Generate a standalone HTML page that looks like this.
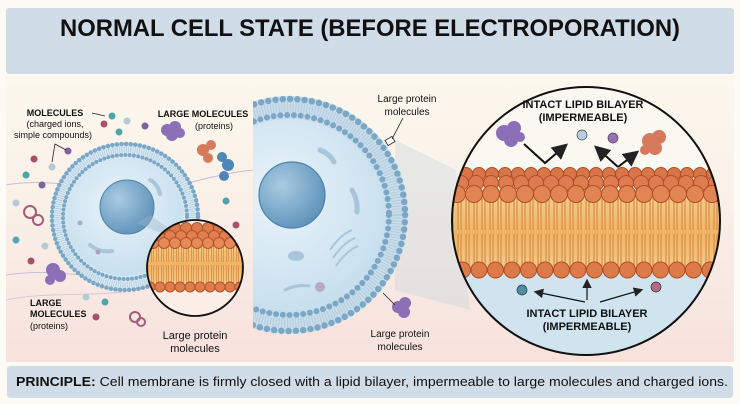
<!DOCTYPE html>
<html><head><meta charset="utf-8"><style>
html,body{margin:0;padding:0;background:#fdfbf6;}
svg{display:block;}
text{font-family:"Liberation Sans",sans-serif;}
</style></head><body>
<svg width="740" height="404" viewBox="0 0 740 404" xmlns="http://www.w3.org/2000/svg">
<defs>
<linearGradient id="bg" x1="0" y1="0" x2="0" y2="1">
<stop offset="0" stop-color="#fcf8ee"/><stop offset="0.55" stop-color="#f9eee6"/><stop offset="1" stop-color="#f7e1dc"/>
</linearGradient>
<radialGradient id="cyto" cx="0.45" cy="0.4" r="0.6">
<stop offset="0" stop-color="#eaf4fa"/><stop offset="1" stop-color="#c7dfee"/>
</radialGradient>
<radialGradient id="nuc" cx="0.35" cy="0.35" r="0.7">
<stop offset="0" stop-color="#a9cbe2"/><stop offset="1" stop-color="#5f93bb"/>
</radialGradient>
<linearGradient id="tailg" x1="0" y1="0" x2="0" y2="1">
<stop offset="0" stop-color="#f6c98a"/><stop offset="0.5" stop-color="#f0b466"/><stop offset="1" stop-color="#f6c98a"/>
</linearGradient>
<pattern id="tails" width="8" height="80" patternUnits="userSpaceOnUse" y="200">
<path d="M2 0 V30 M5 0 V30 M2 34 V80 M5 34 V80" stroke="#d08638" stroke-width="1"/>
</pattern>
<pattern id="tails2" width="5" height="40" patternUnits="userSpaceOnUse" y="246">
<path d="M1.5 0 V16 M3.5 0 V16 M1.5 19 V40 M3.5 19 V40" stroke="#d08638" stroke-width="0.7"/>
</pattern>
<clipPath id="bigc"><circle cx="586" cy="221" r="134"/></clipPath>
<clipPath id="smc"><circle cx="195" cy="268" r="48"/></clipPath>
<clipPath id="panel"><rect x="253" y="77" width="200" height="285"/></clipPath>
<marker id="ar" markerWidth="8" markerHeight="8" refX="6" refY="4" orient="auto"><path d="M0 0 L8 4 L0 8 z" fill="#222"/></marker>
</defs>

<rect x="0" y="0" width="740" height="404" fill="#fdfbf6"/>
<rect x="6" y="8" width="728" height="66" rx="3" fill="#d0dce7"/>
<text x="370" y="36" text-anchor="middle" font-size="24" font-weight="bold" fill="#111" textLength="620" lengthAdjust="spacingAndGlyphs">NORMAL CELL STATE (BEFORE ELECTROPORATION)</text>

<rect x="6" y="76" width="728" height="286" fill="url(#bg)"/>
<path d="M6 185 C60 175 120 200 200 180 S 300 170 360 190" stroke="#c7bfd8" stroke-width="1" fill="none"/>
<path d="M6 275 C70 265 120 290 210 270" stroke="#c7bfd8" stroke-width="1" fill="none"/>
<path d="M6 300 C50 290 110 300 160 285" stroke="#d6c8dc" stroke-width="1" fill="none"/>

<!-- small cell -->
<circle cx="125" cy="217" r="75" fill="#d7e7f1"/>
<circle cx="125" cy="217" r="73" fill="none" stroke="#7aa7c6" stroke-width="4.5" stroke-dasharray="0 4.6" stroke-linecap="round"/>
<circle cx="125" cy="217" r="67.5" fill="none" stroke="#a9c8dc" stroke-width="6" stroke-dasharray="0.6 1.6"/>
<circle cx="125" cy="217" r="62" fill="none" stroke="#7aa7c6" stroke-width="4" stroke-dasharray="0 4.3" stroke-linecap="round"/>
<circle cx="125" cy="217" r="59" fill="url(#cyto)"/>
<circle cx="127" cy="207" r="27" fill="url(#nuc)" stroke="#4f82ab" stroke-width="1"/>
<path d="M150 180 q8 4 10 14" stroke="#a8c5d9" stroke-width="4" fill="none" stroke-linecap="round"/>
<path d="M90 245 q10 8 22 6" stroke="#a8c5d9" stroke-width="4" fill="none" stroke-linecap="round"/>
<circle cx="80" cy="223" r="2.5" fill="#9bb3c8"/><circle cx="98" cy="252" r="2.5" fill="#b39bc8"/>
<path d="M137 223 L150 215 L196 248 Z" fill="#9fb7c8" opacity="0.4"/>
<!-- small inset -->
<circle cx="195" cy="268" r="48" fill="#fbeee6"/>
<g clip-path="url(#smc)">
<rect x="140" y="244" width="110" height="40" fill="url(#tailg)"/>
<rect x="140" y="244" width="110" height="40" fill="url(#tails2)"/>
<line x1="142" y1="228" x2="250" y2="228" stroke="#b5532a" stroke-width="12" stroke-dasharray="0 11" stroke-linecap="round"/>
<line x1="142" y1="228" x2="250" y2="228" stroke="#dd7a4c" stroke-width="10" stroke-dasharray="0 11" stroke-linecap="round"/>
<line x1="137" y1="236" x2="250" y2="236" stroke="#b5532a" stroke-width="12" stroke-dasharray="0 11" stroke-linecap="round"/>
<line x1="137" y1="236" x2="250" y2="236" stroke="#e08050" stroke-width="10" stroke-dasharray="0 11" stroke-linecap="round"/>
<line x1="142" y1="243" x2="250" y2="243" stroke="#b5532a" stroke-width="12" stroke-dasharray="0 11" stroke-linecap="round"/>
<line x1="142" y1="243" x2="250" y2="243" stroke="#e68a58" stroke-width="10" stroke-dasharray="0 11" stroke-linecap="round"/>
<line x1="140" y1="287" x2="250" y2="287" stroke="#b5532a" stroke-width="11" stroke-dasharray="0 10" stroke-linecap="round"/>
<line x1="140" y1="287" x2="250" y2="287" stroke="#de7c4c" stroke-width="9" stroke-dasharray="0 10" stroke-linecap="round"/>
</g>
<circle cx="195" cy="268" r="48" fill="none" stroke="#111" stroke-width="1.8"/>

<g>
<circle cx="112" cy="116" r="3.5" fill="#4fa3a9"/><circle cx="127" cy="121" r="3.5" fill="#b5cad8"/>
<circle cx="104" cy="124" r="3.5" fill="#a8506a"/><circle cx="119" cy="132" r="3.5" fill="#4fa3a9"/>
<circle cx="145" cy="126" r="3.5" fill="#8060a0"/><circle cx="68" cy="151" r="3.5" fill="#8060a0"/>
<circle cx="34" cy="159" r="3.5" fill="#a8506a"/><circle cx="52" cy="167" r="3.5" fill="#b5cad8"/>
<circle cx="26" cy="175" r="3.5" fill="#4fa3a9"/><circle cx="42" cy="185" r="3.5" fill="#8060a0"/>
<circle cx="16" cy="203" r="3.5" fill="#b5cad8"/><circle cx="16" cy="240" r="3.5" fill="#4fa3a9"/>
<circle cx="45" cy="246" r="3.5" fill="#b5cad8"/><circle cx="31" cy="261" r="3.5" fill="#a8506a"/>
<circle cx="86" cy="297" r="3.5" fill="#b5cad8"/><circle cx="105" cy="302" r="3.5" fill="#4fa3a9"/>
<circle cx="96" cy="317" r="3.5" fill="#a8506a"/><circle cx="226" cy="201" r="3.5" fill="#4fa3a9"/>
<circle cx="236" cy="225" r="3.5" fill="#a8506a"/>
</g>
<g fill="#8d6fb8"><circle cx="167" cy="130" r="6"/><circle cx="175" cy="127" r="6"/><circle cx="172" cy="135" r="6"/><circle cx="180" cy="133" r="5"/></g>
<g fill="#d67a5c"><circle cx="203" cy="150" r="6"/><circle cx="211" cy="145" r="5"/><circle cx="208" cy="158" r="5"/></g>
<g fill="#4f86b8"><circle cx="222" cy="157" r="5"/><circle cx="228" cy="165" r="6"/><circle cx="224" cy="176" r="5"/></g>
<g fill="#8d6fb8"><circle cx="53" cy="270" r="7"/><circle cx="60" cy="276" r="6"/><circle cx="50" cy="280" r="5"/></g>
<g fill="none" stroke="#a85a7a" stroke-width="2"><circle cx="30" cy="212" r="6"/><circle cx="38" cy="220" r="5"/><circle cx="135" cy="317" r="5"/><circle cx="141" cy="322" r="4"/></g>

<g font-size="9" fill="#111" text-anchor="middle">
<text x="55" y="116" font-weight="bold">MOLECULES</text>
<text x="55" y="127">(charged ions,</text>
<text x="53" y="138">simple compounds)</text>
<text x="203" y="117" font-weight="bold">LARGE MOLECULES</text>
<text x="214" y="129">(proteins)</text>
</g>
<path d="M92 113 L105 116" stroke="#222" stroke-width="0.8"/>
<path d="M52 162 L55 144 L66 150" stroke="#222" stroke-width="0.8" fill="none"/>
<g font-size="9" fill="#111">
<text x="30" y="306" font-weight="bold">LARGE</text>
<text x="30" y="317" font-weight="bold">MOLECULES</text>
<text x="30" y="329">(proteins)</text>
</g>
<text x="195" y="339" font-size="11" text-anchor="middle" fill="#111">Large protein</text>
<text x="195" y="352" font-size="11" text-anchor="middle" fill="#111">molecules</text>

<!-- big cell -->
<path d="M395 140 L456 170 L470 310 L395 290 Z" fill="#c2d4e0" opacity="0.35"/>
<g clip-path="url(#panel)">
<circle cx="289" cy="215" r="119" fill="#c8dcea"/>
<circle cx="289" cy="215" r="116" fill="none" stroke="#7aa7c6" stroke-width="6.5" stroke-dasharray="0 7.3" stroke-linecap="round"/>
<circle cx="289" cy="215" r="108" fill="none" stroke="#b0cbdd" stroke-width="10" stroke-dasharray="0.8 2"/>
<circle cx="289" cy="215" r="100" fill="none" stroke="#7aa7c6" stroke-width="6" stroke-dasharray="0 6.8" stroke-linecap="round"/>
<circle cx="289" cy="215" r="96" fill="url(#cyto)"/>
<circle cx="292" cy="195" r="33" fill="url(#nuc)" stroke="#4f82ab" stroke-width="1.2"/>
<path d="M320 150 q10 4 14 12" stroke="#a8c5d9" stroke-width="5" fill="none" stroke-linecap="round"/>
<path d="M352 190 q6 10 5 22" stroke="#a8c5d9" stroke-width="5" fill="none" stroke-linecap="round"/>
<path d="M285 290 q12 -6 24 -4" stroke="#a8c5d9" stroke-width="3" fill="none" stroke-linecap="round"/>
<path d="M330 250 q10 -15 22 -20 M333 258 q10 -15 22 -20 M336 266 q10 -15 22 -20" stroke="#a8c5d9" stroke-width="2" fill="none"/>
<ellipse cx="296" cy="256" rx="8" ry="5" fill="#a8c5d9"/>
<circle cx="320" cy="287" r="5" fill="#b8a9c8"/>
</g>
<rect x="386" y="138" width="8" height="6" fill="#fff" stroke="#222" stroke-width="0.8" transform="rotate(-30 390 141)"/>
<path d="M392 139 L403 118" stroke="#222" stroke-width="0.8"/>
<text x="407" y="102" font-size="10" text-anchor="middle" fill="#111">Large protein</text>
<text x="407" y="115" font-size="10" text-anchor="middle" fill="#111">molecules</text>
<g fill="#8d6fb8"><circle cx="398" cy="307" r="6"/><circle cx="405" cy="303" r="6"/><circle cx="404" cy="312" r="6"/></g>
<path d="M383 293 L395 305" stroke="#222" stroke-width="0.8"/>
<text x="400" y="337" font-size="10" text-anchor="middle" fill="#111">Large protein</text>
<text x="400" y="350" font-size="10" text-anchor="middle" fill="#111">molecules</text>

<!-- big inset -->
<circle cx="586" cy="221" r="134" fill="#fbf8f1"/>
<g clip-path="url(#bigc)">
<rect x="440" y="262" width="300" height="100" fill="#cfe4ef"/>
<rect x="440" y="198" width="300" height="70" fill="url(#tailg)"/>
<rect x="440" y="198" width="300" height="70" fill="url(#tails)"/>
<line x1="440" y1="174" x2="740" y2="174" stroke="#b04e26" stroke-width="14" stroke-dasharray="0 13" stroke-linecap="round"/>
<line x1="440" y1="174" x2="740" y2="174" stroke="#d8764a" stroke-width="12" stroke-dasharray="0 13" stroke-linecap="round"/>
<line x1="446" y1="183" x2="740" y2="183" stroke="#b04e26" stroke-width="16" stroke-dasharray="0 15" stroke-linecap="round"/>
<line x1="446" y1="183" x2="740" y2="183" stroke="#dd7c4e" stroke-width="14" stroke-dasharray="0 15" stroke-linecap="round"/>
<line x1="440" y1="194" x2="740" y2="194" stroke="#b04e26" stroke-width="18" stroke-dasharray="0 17" stroke-linecap="round"/>
<line x1="440" y1="194" x2="740" y2="194" stroke="#e28554" stroke-width="16" stroke-dasharray="0 17" stroke-linecap="round"/>
<line x1="446" y1="270" x2="740" y2="270" stroke="#b04e26" stroke-width="17" stroke-dasharray="0 16.5" stroke-linecap="round"/>
<line x1="446" y1="270" x2="740" y2="270" stroke="#dd7a4a" stroke-width="15" stroke-dasharray="0 16.5" stroke-linecap="round"/>
</g>
<circle cx="586" cy="221" r="134" fill="none" stroke="#111" stroke-width="2"/>
<g fill="#8d6fb8"><circle cx="504" cy="133" r="8"/><circle cx="514" cy="128" r="7"/><circle cx="511" cy="140" r="7"/><circle cx="520" cy="137" r="5"/></g>
<g fill="#d67a5c"><circle cx="650" cy="141" r="8"/><circle cx="659" cy="137" r="7"/><circle cx="655" cy="148" r="7"/><circle cx="645" cy="150" r="5"/></g>
<circle cx="582" cy="135" r="5" fill="#b5cfe0" stroke="#445" stroke-width="0.7"/>
<circle cx="613" cy="138" r="5" fill="#9a6fb8" stroke="#445" stroke-width="0.7"/>
<path d="M524 144 L545 163 L565 146" stroke="#111" stroke-width="2" fill="none" marker-end="url(#ar)"/>
<path d="M618 167 L636 153" stroke="#111" stroke-width="2" fill="none" marker-end="url(#ar)"/>
<path d="M618 167 L597 148" stroke="#111" stroke-width="2" fill="none" marker-end="url(#ar)"/>
<text x="583" y="108" font-size="11" font-weight="bold" text-anchor="middle" fill="#111">INTACT LIPID BILAYER</text>
<text x="583" y="121" font-size="11" font-weight="bold" text-anchor="middle" fill="#111">(IMPERMEABLE)</text>
<circle cx="522" cy="290" r="5" fill="#4f8ea0" stroke="#234" stroke-width="0.7"/>
<circle cx="656" cy="287" r="5" fill="#b86a80" stroke="#234" stroke-width="0.7"/>
<path d="M585 302 L536 292" stroke="#111" stroke-width="1.2" marker-end="url(#ar)"/>
<path d="M587 300 L587 281" stroke="#111" stroke-width="1.2" marker-end="url(#ar)"/>
<path d="M600 302 L641 290" stroke="#111" stroke-width="1.2" marker-end="url(#ar)"/>
<text x="587" y="317" font-size="11" font-weight="bold" text-anchor="middle" fill="#111">INTACT LIPID BILAYER</text>
<text x="587" y="330" font-size="11" font-weight="bold" text-anchor="middle" fill="#111">(IMPERMEABLE)</text>

<rect x="7" y="366" width="726" height="32" rx="3" fill="#d0dce7"/>
<text x="16" y="386" font-size="12.5" fill="#111" textLength="712" lengthAdjust="spacingAndGlyphs"><tspan font-weight="bold">PRINCIPLE:</tspan> Cell membrane is firmly closed with a lipid bilayer, impermeable to large molecules and charged ions.</text>
</svg>
</body></html>
